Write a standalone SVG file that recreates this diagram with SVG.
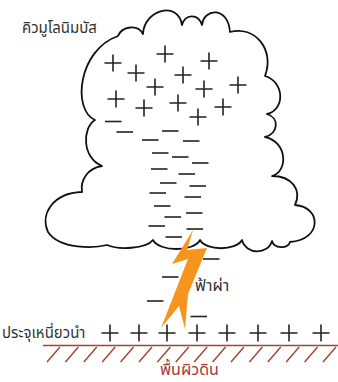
<svg xmlns="http://www.w3.org/2000/svg" width="338" height="382" viewBox="0 0 338 382">
  <style>
    .cloud { fill: #ffffff; stroke: #111111; stroke-width: 1.8; stroke-linejoin: round; }
    .chg { stroke: #222222; stroke-width: 1.6; fill: none; }
    .ground { stroke: #A3432F; stroke-width: 1.4; fill: none; }
    .lbl { font-family: "Noto Sans Thai", "Noto Sans", "DejaVu Sans", sans-serif; font-size: 15px; fill: #333333; }
    .lbl-ground { fill: #A23A3A; }
    .bolt { fill: #F7941D; }
  </style>
  <defs>
    <path id="plus" d="M-8.5,0 H8.5 M0,-8.5 V8.5" class="chg"/>
    <path id="minus" d="M0,0 H16.5" class="chg"/>
  </defs>

  <!-- cumulonimbus cloud -->
  <g id="cloud">
    <path class="cloud" d="M118,36 C122,26 138,24 143,34 C144,10 178,0 182,25 C185,14 198,13 202,25 C204,8 228,6 230,32 C255,25 275,50 265,76 C285,82 285,110 267,114 C280,118 278,134 265,137 C288,142 288,172 272,176 C292,176 302,190 295,205 C322,207 322,240 290,242 C288,249 274,249 272,241 C268,255 246,255 242,240 C236,251 206,251 200,240 C194,252 159,252 153,240 C146,249 118,250 107,245 C95,248 60,250 48,232 C40,215 52,193 82,192 C80,180 88,168 102,166 C82,158 82,128 95,120 C72,110 78,50 118,36 Z"/>
  </g>

  <!-- positive charges at the top of the cloud -->
  <g id="cloud-positive">
    <use href="#plus" x="113" y="63"/>
    <use href="#plus" x="136" y="73"/>
    <use href="#plus" x="165" y="54"/>
    <use href="#plus" x="209" y="61"/>
    <use href="#plus" x="183" y="75"/>
    <use href="#plus" x="155" y="87"/>
    <use href="#plus" x="204" y="89"/>
    <use href="#plus" x="238" y="85"/>
    <use href="#plus" x="116" y="99"/>
    <use href="#plus" x="144" y="108"/>
    <use href="#plus" x="178" y="103"/>
    <use href="#plus" x="198" y="117"/>
    <use href="#plus" x="223" y="107"/>
  </g>

  <!-- negative charges in the lower cloud -->
  <g id="cloud-negative">
    <use href="#minus" x="105" y="121.5"/>
    <use href="#minus" x="116.5" y="132"/>
    <use href="#minus" x="162" y="131"/>
    <use href="#minus" x="142" y="140"/>
    <use href="#minus" x="183" y="141"/>
    <use href="#minus" x="152" y="153"/>
    <use href="#minus" x="172" y="157"/>
    <use href="#minus" x="192" y="163"/>
    <use href="#minus" x="151" y="169"/>
    <use href="#minus" x="178.5" y="174"/>
    <use href="#minus" x="160" y="183"/>
    <use href="#minus" x="189.5" y="186"/>
    <use href="#minus" x="149.5" y="193"/>
    <use href="#minus" x="184.5" y="197"/>
    <use href="#minus" x="154" y="206"/>
    <use href="#minus" x="186" y="213"/>
    <use href="#minus" x="164.5" y="217"/>
    <use href="#minus" x="148.5" y="226"/>
    <use href="#minus" x="186.5" y="229"/>
    <use href="#minus" x="165.5" y="237"/>
  </g>

  <!-- lightning bolt -->
  <g id="lightning">
    <polygon class="bolt" points="193,230 187,250 207,248 188,294 185,329 179,306 161,328 188,259 172,264"/>
  </g>

  <!-- stepped leader charges below the cloud -->
  <g id="leader-negative">
    <use href="#minus" x="203" y="259"/>
    <use href="#minus" x="162" y="277"/>
    <use href="#minus" x="147" y="301"/>
    <use href="#minus" x="190.5" y="316.5"/>
  </g>

  <!-- induced positive charges on the ground -->
  <g id="ground-positive">
    <use href="#plus" x="110" y="333"/>
    <use href="#plus" x="139" y="333"/>
    <use href="#plus" x="167" y="333"/>
    <use href="#plus" x="197" y="333"/>
    <use href="#plus" x="227" y="333"/>
    <use href="#plus" x="258" y="333"/>
    <use href="#plus" x="289" y="333"/>
    <use href="#plus" x="321" y="333"/>
  </g>

  <!-- ground surface with hatching -->
  <g id="ground">
    <path class="ground" d="M43,345.5 H338"/>
    <path class="ground" d="M47,362 L60,347 M65.4,362 L78.4,347 M83.8,362 L96.8,347 M102.2,362 L115.2,347 M120.6,362 L133.6,347 M139,362 L152,347 M157.4,362 L170.4,347 M175.8,362 L188.8,347 M194.2,362 L207.2,347 M212.6,362 L225.6,347 M231,362 L244,347 M249.4,362 L262.4,347 M267.8,362 L280.8,347 M286.2,362 L299.2,347 M304.6,362 L317.6,347 M323,362 L336,347"/>
  </g>

  <!-- labels -->
  <g id="labels">
    <text class="lbl" x="22" y="33">คิวมูโลนิมบัส</text>
    <text class="lbl" x="195" y="291" style="font-size:16px">ฟ้าผ่า</text>
    <text class="lbl" x="2" y="338">ประจุเหนี่ยวนำ</text>
    <text class="lbl lbl-ground" x="160" y="375" style="font-size:16px">พื้นผิวดิน</text>
  </g>
</svg>
